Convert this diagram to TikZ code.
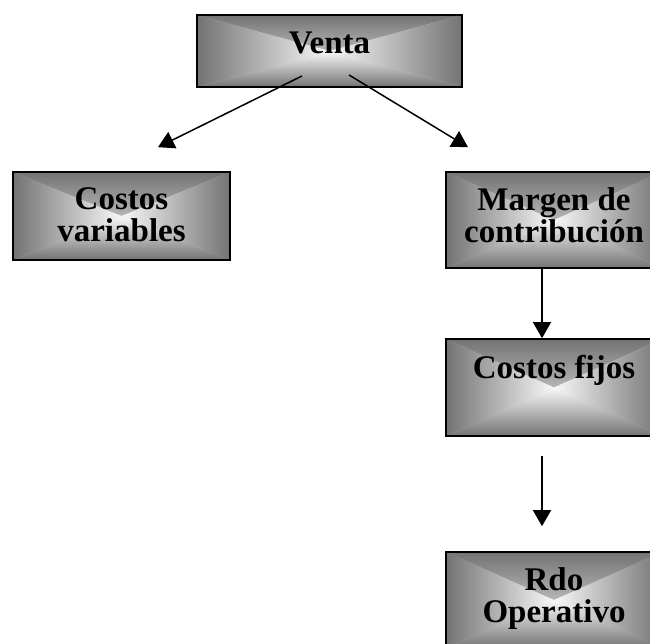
\documentclass[tikz,border=0pt]{standalone}
\usepackage{fontspec}
\setmainfont{Liberation Serif}
\usetikzlibrary{arrows.meta}
\definecolor{boxedge}{RGB}{115,115,115}
\definecolor{boxmid}{RGB}{195,195,195}
\definecolor{boxcenter}{RGB}{248,248,248}
\tikzset{
  shadebox/.style={draw=black, line width=1.6pt, inner sep=0pt,
    fill=boxmid,
    path picture={
      \shade[top color=boxedge,middle color=boxmid,bottom color=boxcenter]
        (path picture bounding box.north west) -- (path picture bounding box.north east)
        -- (path picture bounding box.center) -- cycle;
      \shade[bottom color=boxedge,middle color=boxmid,top color=boxcenter]
        (path picture bounding box.south west) -- (path picture bounding box.south east)
        -- (path picture bounding box.center) -- cycle;
      \shade[left color=boxedge,middle color=boxmid,right color=boxcenter]
        (path picture bounding box.north west) -- (path picture bounding box.south west)
        -- (path picture bounding box.center) -- cycle;
      \shade[right color=boxedge,middle color=boxmid,left color=boxcenter]
        (path picture bounding box.north east) -- (path picture bounding box.south east)
        -- (path picture bounding box.center) -- cycle;
    }},
  lbl/.style={font=\fontsize{33}{32}\selectfont\bfseries, align=center, inner sep=0pt, text=black},
  conn/.style={line width=1.5pt, -{Triangle[width=18pt,length=16pt]}}
}
\begin{document}
\begin{tikzpicture}[x=1pt,y=1pt]
\useasboundingbox (0,0) rectangle (650,644);
\clip (0,0) rectangle (650,644);
% boxes
\node[shadebox, minimum width=265pt, minimum height=72pt] (venta) at (329.5,593) {};
\node[shadebox, minimum width=217pt, minimum height=88pt] (cv) at (121.5,428) {};
\node[shadebox, minimum width=216pt, minimum height=96pt] (mc) at (554,424) {};
\node[shadebox, minimum width=216pt, minimum height=97pt] (cf) at (554,256.5) {};
\node[shadebox, minimum width=216pt, minimum height=96pt] (ro) at (554,44) {};
% texts
\node[lbl] (tventa) at ([yshift=8.5pt]venta.center) {Venta};
\node[lbl] (tcv) at ([yshift=1pt]cv.center) {Costos\\variables};
\node[lbl] (tmc) at ([yshift=5pt]mc.center) {Margen de\\contribución};
\node[lbl] (tcf) at ([yshift=17pt]cf.center) {Costos fijos};
\node[lbl] (tro) at ([yshift=1.5pt]ro.center) {Rdo\\Operativo};
% connector end points
\coordinate (a1s) at ([xshift=-27.5pt,yshift=-25pt]venta.center);
\coordinate (a1e) at ([xshift=36.5pt,yshift=24pt]cv.north);
\coordinate (a2s) at ([xshift=19.5pt,yshift=-24pt]venta.center);
\coordinate (a2e) at ([xshift=-86pt,yshift=24pt]mc.north);
\coordinate (a3s) at ([xshift=-12pt]mc.south);
\coordinate (a3e) at ([xshift=-12pt]cf.north);
\coordinate (a4s) at ([xshift=-12pt,yshift=-19pt]cf.south);
\coordinate (a4e) at ([xshift=-12pt,yshift=25pt]ro.north);
% connectors
\draw[conn] (a1s) -- (a1e);
\draw[conn] (a2s) -- (a2e);
\draw[conn] (a3s) -- (a3e);
\draw[conn] (a4s) -- (a4e);
\end{tikzpicture}
\end{document}
